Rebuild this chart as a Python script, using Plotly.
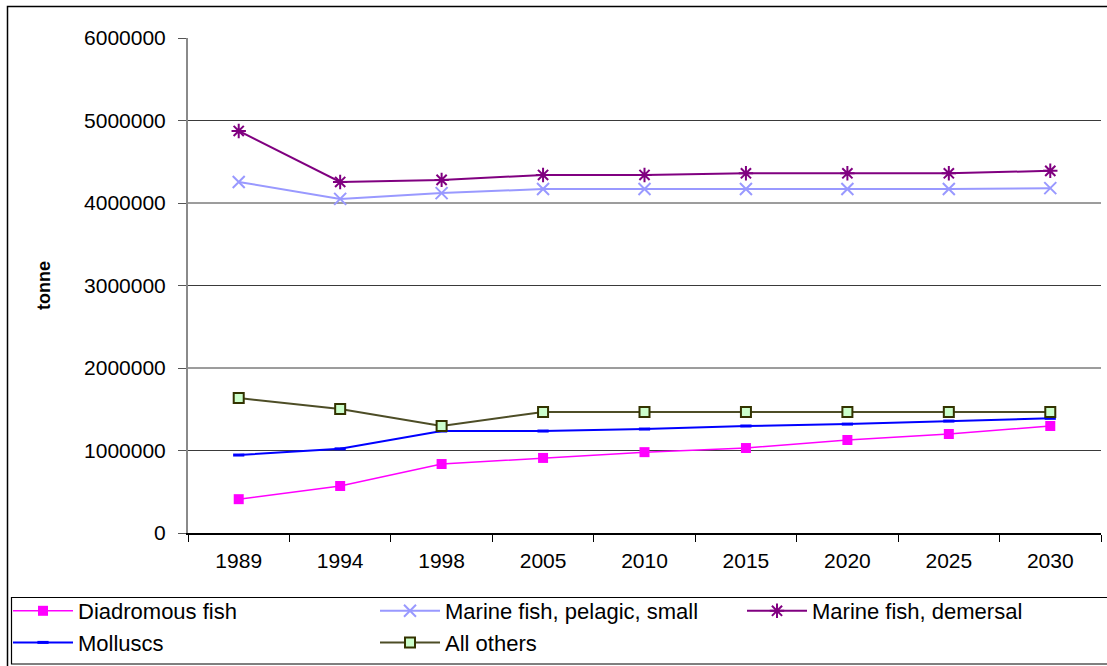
import plotly.graph_objects as go

# Production by species group, tonnes
years = ["1989", "1994", "1998", "2005", "2010", "2015", "2020", "2025", "2030"]

diadromous = [410000, 570000, 836000, 910000, 980000, 1030000, 1127000, 1200000, 1297000]
pelagic_small = [4255000, 4050000, 4120000, 4170000, 4170000, 4170000, 4170000, 4170000, 4180000]
demersal = [4873000, 4255000, 4280000, 4340000, 4340000, 4360000, 4360000, 4360000, 4390000]
molluscs = [945000, 1020000, 1236000, 1236000, 1260000, 1297000, 1320000, 1357000, 1390000]
all_others = [1636000, 1503000, 1297000, 1467000, 1467000, 1467000, 1467000, 1467000, 1467000]

y_ticks = [0, 1000000, 2000000, 3000000, 4000000, 5000000, 6000000]

FONT = "Arial, Liberation Sans, sans-serif"

fig = go.Figure()

fig.add_trace(go.Scatter(
    x=years, y=diadromous, name="Diadromous fish", mode="lines+markers",
    line=dict(color="#FF00FF", width=1.5),
    marker=dict(symbol="square", size=10, color="#FF00FF"),
))
fig.add_trace(go.Scatter(
    x=years, y=pelagic_small, name="Marine fish, pelagic, small", mode="lines+markers",
    line=dict(color="#9999FF", width=2),
    marker=dict(symbol="x-thin-open", size=12, color="#9999FF", line=dict(color="#9999FF", width=2)),
))
fig.add_trace(go.Scatter(
    x=years, y=demersal, name="Marine fish, demersal", mode="lines+markers",
    line=dict(color="#800080", width=2),
    marker=dict(symbol="asterisk-open", size=12, color="#800080", line=dict(color="#800080", width=2)),
))
fig.add_trace(go.Scatter(
    x=years, y=molluscs, name="Molluscs", mode="lines+markers",
    line=dict(color="#0000FF", width=2),
    marker=dict(symbol="line-ew-open", size=8, color="#0000FF", line=dict(color="#0000FF", width=3)),
))
fig.add_trace(go.Scatter(
    x=years, y=all_others, name="All others", mode="lines+markers",
    line=dict(color="#4d4d26", width=2),
    marker=dict(symbol="square", size=10, color="#CCFFCC", line=dict(color="#333300", width=2)),
))

# Horizontal gridlines (no line at the top of the value axis)
shapes = []
for v in y_ticks[1:-1]:
    shapes.append(dict(type="line", xref="paper", yref="y", x0=0, x1=1, y0=v, y1=v,
                       line=dict(color="#3a3a3a", width=1), layer="below"))

# Plot-area geometry in pixels, used to place frames in paper units
L, T, W, H = 188, 38, 913, 495
def px_x(p):
    return (p - L) / W
def px_y(p):
    return (T + H - p) / H

# Outer chart border
shapes.append(dict(type="rect", xref="paper", yref="paper",
                   x0=px_x(7.5), x1=px_x(1112), y0=px_y(6.5), y1=px_y(672),
                   line=dict(color="black", width=1.5), fillcolor="rgba(0,0,0,0)", layer="below"))
# Legend frame
shapes.append(dict(type="rect", xref="paper", yref="paper",
                   x0=px_x(11.5), x1=px_x(1112), y0=px_y(597.5), y1=px_y(664),
                   line=dict(color="black", width=1.2), fillcolor="rgba(0,0,0,0)", layer="below"))

fig.update_layout(
    width=1107, height=666,
    margin=dict(l=L, r=1107 - L - W, t=T, b=666 - T - H, autoexpand=False),
    paper_bgcolor="white", plot_bgcolor="white",
    font=dict(family=FONT, color="black"),
    shapes=shapes,
    showlegend=True,
    legend=dict(
        orientation="h", x=px_x(8), y=px_y(590), xanchor="left", yanchor="top",
        borderwidth=0, bgcolor="rgba(0,0,0,0)",
        font=dict(family=FONT, size=22, color="black"),
        itemwidth=60, entrywidth=292, entrywidthmode="pixels",
        traceorder="normal",
    ),
)

fig.update_xaxes(
    type="category", range=[-0.5, len(years) - 0.5],
    showline=True, linecolor="black", linewidth=1.5,
    ticks="outside", tickson="boundaries", ticklen=7, tickcolor="black", tickwidth=1,
    showgrid=False, zeroline=False, ticklabelstandoff=8,
    tickfont=dict(family=FONT, size=21, color="black"),
)

fig.update_yaxes(
    range=[0, 6000000], tickvals=y_ticks, tickformat="d",
    showline=True, linecolor="#8a8a8a", linewidth=2,
    ticks="outside", ticklen=8, tickcolor="#555555", tickwidth=1,
    showgrid=False, zeroline=False, ticklabelstandoff=8,
    tickfont=dict(family=FONT, size=21, color="black"),
    title=dict(text="<b>tonne</b>", font=dict(family=FONT, size=18, color="black"), standoff=29),
)

fig.write_html("out.html")
